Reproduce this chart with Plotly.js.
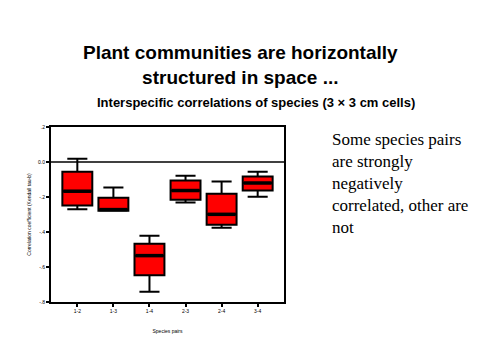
<!DOCTYPE html>
<html>
<head>
<meta charset="utf-8">
<script src="https://cdn.plot.ly/plotly-3.0.1.min.js"></script>
<style>html,body{margin:0;padding:0;background:#fff}#chart{width:480px;height:360px}</style>
</head>
<body>
<div id="chart"></div>
<script>
// Data
const pairs = ["1-2", "1-3", "1-4", "2-3", "2-4", "3-4"];
const upperWhisker = [0.019, -0.146, -0.421, -0.078, -0.112, -0.055];
const q3Values     = [-0.055, -0.204, -0.467, -0.106, -0.181, -0.083];
const medians      = [-0.167, -0.272, -0.535, -0.163, -0.299, -0.120];
const q1Values     = [-0.249, -0.278, -0.647, -0.215, -0.358, -0.163];
const lowerWhisker = [-0.270, -0.278, -0.741, -0.232, -0.375, -0.198];
const yTickVals  = [0.2, 0.0, -0.2, -0.4, -0.6, -0.8];
const yTickText  = [".2", "0.0", "-.2", "-.4", "-.6", "-.8"];
const referenceLine = 0.0;

const xIdx = pairs.map((p, i) => i);

const boxTrace = {
  type: "box",
  x: xIdx,
  q1: q1Values,
  median: medians,
  q3: q3Values,
  lowerfence: lowerWhisker,
  upperfence: upperWhisker,
  fillcolor: "#ff0000",
  line: {color: "#000000", width: 2},
  width: 0.83,
  whiskerwidth: 0.67,
  boxpoints: false,
  hoverinfo: "skip",
  showlegend: false
};

// thicker median bars, drawn through the axes
const medianTrace = {
  type: "scatter",
  mode: "markers",
  x: xIdx,
  y: medians,
  marker: {symbol: "line-ew", size: 20, line: {color: "#000", width: 3.5}},
  hoverinfo: "skip",
  showlegend: false
};

const layout = {
  width: 480, height: 360,
  paper_bgcolor: "#ffffff", plot_bgcolor: "#ffffff",
  margin: {l: 51, r: 196, t: 127, b: 58},
  showlegend: false,
  xaxis: {
    range: [-0.73, pairs.length - 1 + 0.73],
    tickvals: xIdx, ticktext: pairs,
    showgrid: false, zeroline: false,
    showline: true, mirror: true, linecolor: "#000", linewidth: 2,
    ticks: "outside", ticklen: 3, tickwidth: 2, tickcolor: "#000",
    tickfont: {family: "Liberation Sans", size: 5, color: "#000"},
    title: {text: "Species pairs", font: {family: "Liberation Sans", size: 5, color: "#000"}, standoff: 16}
  },
  yaxis: {
    range: [-0.8, 0.2],
    tickvals: yTickVals, ticktext: yTickText,
    showgrid: false, zeroline: false,
    showline: true, mirror: true, linecolor: "#000", linewidth: 2,
    ticks: "outside", ticklen: 3, tickwidth: 2, tickcolor: "#000",
    tickfont: {family: "Liberation Sans", size: 5, color: "#000"},
    title: {text: "Correlation coefficient (Kendall tau-b)", font: {family: "Liberation Sans", size: 5, color: "#000"}, standoff: 6}
  },
  shapes: [{
    type: "line", xref: "paper", x0: 0, x1: 1, yref: "y", y0: referenceLine, y1: referenceLine,
    line: {color: "#000", width: 1.5}
  }],
  annotations: [
    {xref: "paper", yref: "paper", x: (240 - 51) / 233, y: (302 - 65) / 175, xanchor: "center", yanchor: "middle",
     text: "<b>Plant communities are horizontally<br>structured in space ...</b>", showarrow: false,
     font: {family: "Liberation Sans", size: 19, color: "#000"}},
    {xref: "paper", yref: "paper", x: (256 - 51) / 233, y: (302 - 102) / 175, xanchor: "center", yanchor: "middle",
     text: "<b>Interspecific correlations of species (3 × 3 cm cells)</b>", showarrow: false,
     font: {family: "Liberation Sans", size: 13, color: "#000"}},
    {xref: "paper", yref: "paper", x: (330 - 51) / 233, y: (302 - 128) / 175, xanchor: "left", yanchor: "top",
     align: "left",
     text: "Some species pairs<br>are strongly<br>negatively<br>correlated, other are<br>not", showarrow: false,
     font: {family: "Liberation Serif", size: 17, color: "#000"}}
  ]
};

Plotly.newPlot("chart", [boxTrace, medianTrace], layout, {staticPlot: true, displayModeBar: false});
</script>
</body>
</html>
